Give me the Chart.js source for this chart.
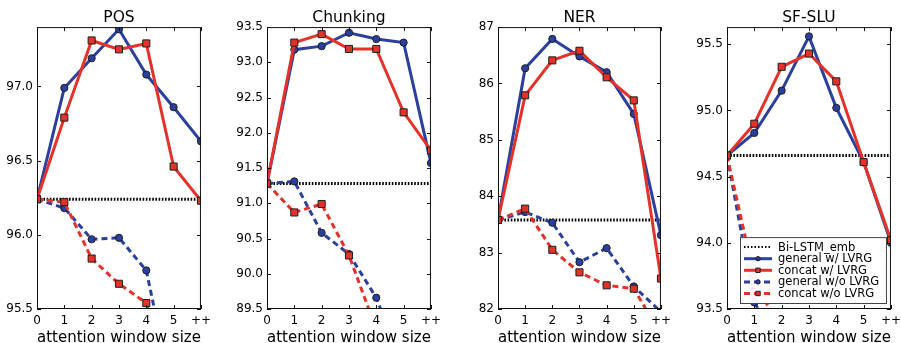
<!DOCTYPE html>
<html>
<head>
<meta charset="utf-8">
<script src="https://cdn.jsdelivr.net/npm/chart.js@4.4.1/dist/chart.umd.min.js"></script>
<style>
  html, body { margin: 0; padding: 0; background: #fff; }
  #wrap { position: relative; width: 901px; height: 343px; overflow: hidden; background: #fff; }
  canvas { position: absolute; top: 0; }
</style>
</head>
<body>
<div id="wrap">
  <canvas id="c0" width="219" height="343"></canvas>
  <canvas id="c1" width="219" height="343"></canvas>
  <canvas id="c2" width="218" height="343"></canvas>
  <canvas id="c3" width="219" height="343"></canvas>
</div>
<script>
// ---------- data ----------
const xLabels = ['0', '1', '2', '3', '4', '5', '++'];
const seriesNames = ['Bi-LSTM_emb', 'general w/ LVRG', 'concat w/ LVRG', 'general w/o LVRG', 'concat w/o LVRG'];
const panelTitles = ['POS', 'Chunking', 'NER', 'SF-SLU'];

// POS
const posBaseline     = [96.24, 96.24, 96.24, 96.24, 96.24, 96.24, 96.24];
const posGeneralLVRG  = [96.24, 96.99, 97.19, 97.385, 97.08, 96.86, 96.63];
const posConcatLVRG   = [96.24, 96.79, 97.31, 97.25, 97.29, 96.46, 96.23];
const posGeneralNoLV  = [96.24, 96.18, 95.97, 95.98, 95.76, 94.88, 94.60];
const posConcatNoLV   = [96.24, 96.22, 95.84, 95.67, 95.54, 95.00, 94.80];
const posTicks = [95.5, 96.0, 96.5, 97.0];

// Chunking
const chkBaseline     = [91.28, 91.28, 91.28, 91.28, 91.28, 91.28, 91.28];
const chkGeneralLVRG  = [91.28, 93.18, 93.23, 93.42, 93.33, 93.28, 91.57];
const chkConcatLVRG   = [91.28, 93.28, 93.40, 93.19, 93.19, 92.29, 91.75];
const chkGeneralNoLV  = [91.28, 91.31, 90.58, 90.28, 89.66, 88.66, 88.00];
const chkConcatNoLV   = [91.28, 90.87, 90.99, 90.26, 89.21, 88.50, 88.00];
const chkTicks = [89.5, 90.0, 90.5, 91.0, 91.5, 92.0, 92.5, 93.0, 93.5];

// NER
const nerBaseline     = [83.58, 83.58, 83.58, 83.58, 83.58, 83.58, 83.58];
const nerGeneralLVRG  = [83.58, 86.27, 86.79, 86.48, 86.20, 85.46, 83.31];
const nerConcatLVRG   = [83.58, 85.79, 86.41, 86.58, 86.11, 85.70, 82.54];
const nerGeneralNoLV  = [83.58, 83.72, 83.53, 82.83, 83.08, 82.40, 81.95];
const nerConcatNoLV   = [83.58, 83.78, 83.05, 82.65, 82.42, 82.36, 81.55];
const nerTicks = [82, 83, 84, 85, 86, 87];

// SF-SLU
const sluBaseline     = [94.66, 94.66, 94.66, 94.66, 94.66, 94.66, 94.66];
const sluGeneralLVRG  = [94.66, 94.83, 95.15, 95.56, 95.02, 94.61, 94.00];
const sluConcatLVRG   = [94.66, 94.90, 95.33, 95.43, 95.22, 94.61, 94.02];
const sluGeneralNoLV  = [94.66, 93.55, 93.20, 93.00, 92.90, 92.80, 92.70];
const sluConcatNoLV   = [94.66, 93.74, 93.30, 93.10, 93.00, 92.90, 92.80];
const sluTicks = [93.5, 94.0, 94.5, 95.0, 95.5];

// ---------- layout / style ----------
const panels = [
  { title: panelTitles[0], series: [posBaseline, posGeneralLVRG, posConcatLVRG, posGeneralNoLV, posConcatNoLV], ticks: posTicks, min: 95.5, max: 97.4, dec: 1, plotLeft: 37, plotRight: 202 },
  { title: panelTitles[1], series: [chkBaseline, chkGeneralLVRG, chkConcatLVRG, chkGeneralNoLV, chkConcatNoLV], ticks: chkTicks, min: 89.5, max: 93.5, dec: 1, plotLeft: 267, plotRight: 432 },
  { title: panelTitles[2], series: [nerBaseline, nerGeneralLVRG, nerConcatLVRG, nerGeneralNoLV, nerConcatNoLV], ticks: nerTicks, min: 82, max: 87, dec: 0, plotLeft: 498, plotRight: 662 },
  { title: panelTitles[3], series: [sluBaseline, sluGeneralLVRG, sluConcatLVRG, sluGeneralNoLV, sluConcatNoLV], ticks: sluTicks, min: 93.5, max: 95.63, dec: 1, plotLeft: 727, plotRight: 892, legend: true }
];

const BLUE = '#2b3f9e';
const RED = '#e4322a';
const EDGE = '#1e1e1e';
const Y_AXIS_W = 40;
const RIGHT_PAD = 14;

const styles = [
  { borderColor: '#000', borderWidth: 3, borderDash: [1.6, 1.6], pointRadius: 0, order: 5 },
  { borderColor: BLUE, borderWidth: 3, pointStyle: 'circle', pointRadius: 3.6, pointBackgroundColor: BLUE, pointBorderColor: EDGE, pointBorderWidth: 1, order: 4 },
  { borderColor: RED, borderWidth: 3, pointStyle: 'rect', pointRadius: 5, pointBackgroundColor: RED, pointBorderColor: EDGE, pointBorderWidth: 1, order: 3 },
  { borderColor: BLUE, borderWidth: 3, borderDash: [6, 4], pointStyle: 'circle', pointRadius: 3.6, pointBackgroundColor: BLUE, pointBorderColor: EDGE, pointBorderWidth: 1, order: 2 },
  { borderColor: RED, borderWidth: 3, borderDash: [6, 4], pointStyle: 'rect', pointRadius: 5, pointBackgroundColor: RED, pointBorderColor: EDGE, pointBorderWidth: 1, order: 1 }
];

Chart.defaults.font.family = "'DejaVu Sans', 'Liberation Sans', sans-serif";
Chart.defaults.color = '#000';

// frame + inward ticks on all four sides
const framePlugin = {
  id: 'frameTicks',
  afterDatasetsDraw(chart) {
    const { ctx, chartArea: a, scales } = chart;
    ctx.save();
    ctx.strokeStyle = '#111';
    ctx.lineWidth = 1;
    ctx.strokeRect(a.left + 0.5, a.top + 0.5, a.right - a.left - 1, a.bottom - a.top - 1);
    const L = 4;
    ctx.beginPath();
    scales.y.ticks.forEach(t => {
      const y = Math.round(scales.y.getPixelForValue(t.value)) + 0.5;
      ctx.moveTo(a.left, y); ctx.lineTo(a.left + L, y);
      ctx.moveTo(a.right, y); ctx.lineTo(a.right - L, y);
    });
    scales.x.ticks.forEach((t, i) => {
      const x = Math.round(scales.x.getPixelForTick(i)) + 0.5;
      ctx.moveTo(x, a.bottom); ctx.lineTo(x, a.bottom - L);
      ctx.moveTo(x, a.top); ctx.lineTo(x, a.top + L);
    });
    ctx.stroke();
    ctx.restore();
  }
};

// in-plot legend (matplotlib style, lower right)
const legendPlugin = {
  id: 'boxLegend',
  afterDraw(chart, args, opts) {
    if (!opts || !opts.show) return;
    const { ctx, chartArea: a } = chart;
    const bx = a.left + 13, by = a.top + 210, bw = a.right - 4 - bx, bh = a.bottom - 5 - by;
    ctx.save();
    ctx.fillStyle = 'rgba(255,255,255,0.95)';
    ctx.fillRect(bx, by, bw, bh);
    ctx.strokeStyle = '#444';
    ctx.lineWidth = 1;
    ctx.strokeRect(bx + 0.5, by + 0.5, bw - 1, bh - 1);
    chart.data.datasets.forEach((ds, i) => {
      const y = by + 10 + i * 11.6;
      const x0 = bx + 4, x1 = bx + 32;
      ctx.save();
      ctx.strokeStyle = ds.borderColor;
      ctx.lineWidth = i === 0 ? 2 : 3;
      ctx.setLineDash(i === 0 ? [1.5, 2] : (ds.borderDash || []));
      ctx.beginPath(); ctx.moveTo(x0, y); ctx.lineTo(x1, y); ctx.stroke();
      ctx.restore();
      if (ds.pointRadius > 0) {
        ctx.save();
        ctx.fillStyle = ds.pointBackgroundColor; ctx.strokeStyle = ds.pointBorderColor; ctx.lineWidth = 1;
        ctx.beginPath();
        if (ds.pointStyle === 'rect') { ctx.rect((x0 + x1) / 2 - 2.2, y - 2.2, 4.4, 4.4); }
        else { ctx.arc((x0 + x1) / 2, y, 2.2, 0, Math.PI * 2); }
        ctx.fill(); ctx.stroke();
        ctx.restore();
      }
      ctx.fillStyle = '#000';
      ctx.font = "11.5px 'DejaVu Sans'";
      ctx.textBaseline = 'middle';
      ctx.textAlign = 'left';
      ctx.fillText(seriesNames[i], bx + 38, y + 0.5);
    });
    ctx.restore();
  }
};

panels.forEach((p, idx) => {
  const canvas = document.getElementById('c' + idx);
  const w = (p.plotRight - p.plotLeft) + Y_AXIS_W + RIGHT_PAD;
  canvas.width = w;
  canvas.style.left = (p.plotLeft - Y_AXIS_W) + 'px';

  const datasets = p.series.map((vals, i) => Object.assign({
    label: seriesNames[i],
    data: vals,
    fill: false,
    tension: 0,
    clip: 0
  }, styles[i]));

  new Chart(canvas, {
    type: 'line',
    data: { labels: xLabels, datasets },
    options: {
      responsive: false,
      animation: false,
      layout: { padding: { left: 0, right: RIGHT_PAD, top: 0, bottom: 0 } },
      plugins: {
        legend: { display: false },
        tooltip: { enabled: false },
        title: {
          display: true, text: p.title, fullSize: false, color: '#000',
          font: { size: 15.5, weight: 'normal', lineHeight: 1.2 },
          padding: { top: 9, bottom: -0.5 }
        },
        boxLegend: { show: !!p.legend }
      },
      scales: {
        x: {
          type: 'category', offset: false,
          grid: { display: false, drawTicks: false },
          border: { display: false },
          ticks: { autoSkip: false, maxRotation: 0, padding: 5, font: { size: 12 } },
          title: { display: true, text: 'attention window size', font: { size: 15.5, lineHeight: 1 }, padding: { top: 0, bottom: -2.5 } },
          afterFit(s) { s.height = 34; }
        },
        y: {
          min: p.min, max: p.max,
          grid: { display: false, drawTicks: false },
          border: { display: false },
          ticks: {
            autoSkip: false, padding: 4, font: { size: 12 },
            callback: (v) => Number(v).toFixed(p.dec)
          },
          afterBuildTicks(s) { s.ticks = p.ticks.map(v => ({ value: v })); },
          afterFit(s) { s.width = Y_AXIS_W; }
        }
      }
    },
    plugins: [framePlugin, legendPlugin]
  });
});
</script>
</body>
</html>
